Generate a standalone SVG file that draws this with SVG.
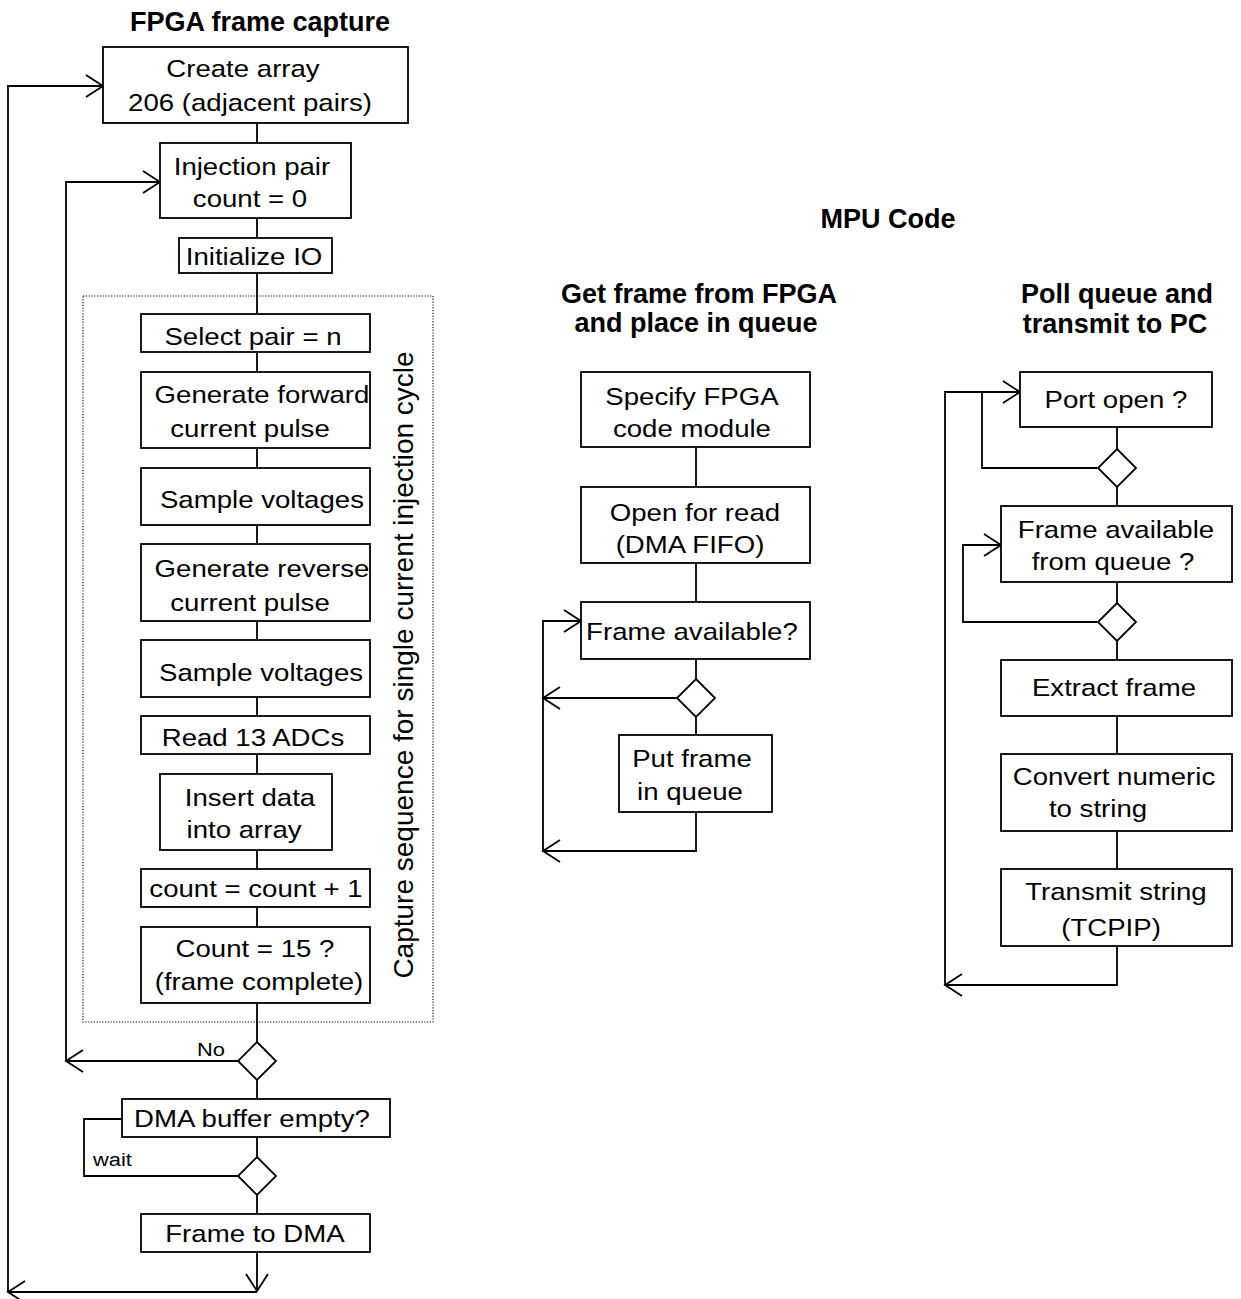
<svg xmlns="http://www.w3.org/2000/svg" width="1241" height="1299" viewBox="0 0 1241 1299">
<style>
.bg{fill:#ffffff}
.box{fill:#ffffff;stroke:#000;stroke-width:1.8}
.dia{fill:#ffffff;stroke:#000;stroke-width:1.8}
.ln{fill:none;stroke:#000;stroke-width:1.8}
.dot{fill:none;stroke:#000;stroke-width:1.1;stroke-dasharray:1.2 1.6}
.t{font-family:"Liberation Sans",Arial,sans-serif;font-size:24px;text-anchor:middle;fill:#000}
.s{font-family:"Liberation Sans",Arial,sans-serif;font-size:19px;text-anchor:middle;fill:#000}
.h{font-family:"Liberation Sans",Arial,sans-serif;font-size:27px;font-weight:bold;text-anchor:middle;fill:#000}
.r{font-family:"Liberation Sans",Arial,sans-serif;font-size:28px;text-anchor:middle;fill:#000}
</style>
<defs>
<marker id="ah" markerUnits="userSpaceOnUse" viewBox="-19 -12 21 24" markerWidth="21" markerHeight="24" refX="0" refY="0" orient="auto" overflow="visible">
<path d="M-17,-11 L0,0 L-17,11" fill="none" stroke="#000" stroke-width="1.8"/>
</marker>
</defs>
<rect class="bg" x="0" y="0" width="1241" height="1299"/>

<g id="titles">
<text class="h" x="260" y="31">FPGA frame capture</text>
<text class="h" x="888" y="228">MPU Code</text>
<text class="h" x="699" y="303">Get frame from FPGA</text>
<text class="h" x="696" y="332">and place in queue</text>
<text class="h" x="1117" y="303">Poll queue and</text>
<text class="h" x="1115" y="333">transmit to PC</text>
</g>

<g id="group-capture">
<rect class="dot" x="83" y="296" width="350" height="726"/>
<text class="r" transform="translate(413,665) rotate(-90)">Capture sequence for single current injection cycle</text>
</g>

<g id="connectors">
<path class="ln" d="M257,123 V143"/>
<path class="ln" d="M257,218 V238"/>
<path class="ln" d="M257,273 V314"/>
<path class="ln" d="M257,352 V372"/>
<path class="ln" d="M257,448 V468"/>
<path class="ln" d="M257,525 V544"/>
<path class="ln" d="M257,621 V640"/>
<path class="ln" d="M257,697 V716"/>
<path class="ln" d="M257,754 V774"/>
<path class="ln" d="M257,850 V869"/>
<path class="ln" d="M257,907 V927"/>
<path class="ln" d="M257,1003 V1042"/>
<path class="ln" d="M257,1080 V1099"/>
<path class="ln" d="M257,1137 V1157"/>
<path class="ln" d="M257,1195 V1214"/>
<path class="ln" d="M257,1252 V1291" marker-end="url(#ah)"/>
<path class="ln" d="M257,1292 H8" marker-end="url(#ah)"/>
<path class="ln" d="M8,1292 V86 H103" marker-end="url(#ah)"/>
<path class="ln" d="M238,1061 H66" marker-end="url(#ah)"/>
<path class="ln" d="M66,1061 V182 H160" marker-end="url(#ah)"/>
<path class="ln" d="M122,1119 H84 V1176 H238"/>

<path class="ln" d="M696,447 V487"/>
<path class="ln" d="M696,563 V602"/>
<path class="ln" d="M696,659 V679"/>
<path class="ln" d="M677,698 H543" marker-end="url(#ah)"/>
<path class="ln" d="M696,717 V735"/>
<path class="ln" d="M696,812 V851 H543" marker-end="url(#ah)"/>
<path class="ln" d="M543,851 V621 H581" marker-end="url(#ah)"/>

<path class="ln" d="M1117,427 V449"/>
<path class="ln" d="M1097,468 H982 V392"/>
<path class="ln" d="M1117,487 V506"/>
<path class="ln" d="M1117,582 V603"/>
<path class="ln" d="M1097,622 H963 V545 H1001" marker-end="url(#ah)"/>
<path class="ln" d="M1117,641 V660"/>
<path class="ln" d="M1117,716 V754"/>
<path class="ln" d="M1117,831 V869"/>
<path class="ln" d="M1117,946 V985 H945" marker-end="url(#ah)"/>
<path class="ln" d="M945,985 V392 H1020" marker-end="url(#ah)"/>
</g>

<g id="n-create"><rect class="box" x="103" y="47" width="305" height="76"/>
<text class="t" transform="scale(1.15,1)" x="211.3" y="77">Create array</text>
<text class="t" transform="scale(1.15,1)" x="217.4" y="111">206 (adjacent pairs)</text></g>

<g id="n-injection"><rect class="box" x="160" y="143" width="191" height="75"/>
<text class="t" transform="scale(1.15,1)" x="219.1" y="175">Injection pair</text>
<text class="t" transform="scale(1.15,1)" x="217.4" y="207">count = 0</text></g>

<g id="n-init"><rect class="box" x="179" y="238" width="153" height="35"/>
<text class="t" transform="scale(1.15,1)" x="220.9" y="265">Initialize IO</text></g>

<g id="n-select"><rect class="box" x="141" y="314" width="229" height="38"/>
<text class="t" transform="scale(1.15,1)" x="220" y="345">Select pair = n</text></g>

<g id="n-fwd"><rect class="box" x="141" y="372" width="229" height="76"/>
<text class="t" transform="scale(1.15,1)" x="227.8" y="403">Generate forward</text>
<text class="t" transform="scale(1.15,1)" x="217.4" y="437">current pulse</text></g>

<g id="n-sample1"><rect class="box" x="141" y="468" width="229" height="57"/>
<text class="t" transform="scale(1.15,1)" x="227.8" y="508">Sample voltages</text></g>

<g id="n-rev"><rect class="box" x="141" y="544" width="229" height="77"/>
<text class="t" transform="scale(1.15,1)" x="227.8" y="577">Generate reverse</text>
<text class="t" transform="scale(1.15,1)" x="217.4" y="611">current pulse</text></g>

<g id="n-sample2"><rect class="box" x="141" y="640" width="229" height="57"/>
<text class="t" transform="scale(1.15,1)" x="227" y="681">Sample voltages</text></g>

<g id="n-read"><rect class="box" x="141" y="716" width="229" height="38"/>
<text class="t" transform="scale(1.15,1)" x="220" y="746">Read 13 ADCs</text></g>

<g id="n-insert"><rect class="box" x="160" y="774" width="172" height="76"/>
<text class="t" transform="scale(1.15,1)" x="217.4" y="806">Insert data</text>
<text class="t" transform="scale(1.15,1)" x="212.2" y="838">into array</text></g>

<g id="n-inc"><rect class="box" x="141" y="869" width="229" height="38"/>
<text class="t" transform="scale(1.15,1)" x="222.6" y="897">count = count + 1</text></g>

<g id="n-count"><rect class="box" x="141" y="927" width="229" height="76"/>
<text class="t" transform="scale(1.15,1)" x="221.7" y="957">Count = 15 ?</text>
<text class="t" transform="scale(1.15,1)" x="225.2" y="990">(frame complete)</text></g>

<g id="d-count"><path class="dia" d="M257,1042 L276,1061 L257,1080 L238,1061 Z"/>
<text class="s" transform="scale(1.15,1)" x="183.5" y="1056">No</text></g>

<g id="n-dma"><rect class="box" x="122" y="1099" width="268" height="38"/>
<text class="t" transform="scale(1.15,1)" x="219.1" y="1127">DMA buffer empty?</text></g>

<g id="d-dma"><path class="dia" d="M257,1157 L276,1176 L257,1195 L238,1176 Z"/>
<text class="s" transform="scale(1.15,1)" x="97.8" y="1166">wait</text></g>

<g id="n-todma"><rect class="box" x="141" y="1214" width="229" height="38"/>
<text class="t" transform="scale(1.15,1)" x="221.7" y="1242">Frame to DMA</text></g>

<g id="n-specify"><rect class="box" x="581" y="372" width="229" height="75"/>
<text class="t" transform="scale(1.15,1)" x="601.7" y="405">Specify FPGA</text>
<text class="t" transform="scale(1.15,1)" x="601.7" y="437">code module</text></g>

<g id="n-open"><rect class="box" x="581" y="487" width="229" height="76"/>
<text class="t" transform="scale(1.15,1)" x="604.3" y="521">Open for read</text>
<text class="t" transform="scale(1.15,1)" x="600" y="553">(DMA FIFO)</text></g>

<g id="n-favail"><rect class="box" x="581" y="602" width="229" height="57"/>
<text class="t" transform="scale(1.15,1)" x="601.7" y="640">Frame available?</text></g>

<g id="d-favail"><path class="dia" d="M696,679 L715,698 L696,717 L677,698 Z"/></g>

<g id="n-put"><rect class="box" x="619" y="735" width="153" height="77"/>
<text class="t" transform="scale(1.15,1)" x="601.7" y="767">Put frame</text>
<text class="t" transform="scale(1.15,1)" x="600" y="800">in queue</text></g>

<g id="n-port"><rect class="box" x="1020" y="372" width="192" height="55"/>
<text class="t" transform="scale(1.15,1)" x="970.4" y="408">Port open ?</text></g>

<g id="d-port"><path class="dia" d="M1117,449 L1136,468 L1117,487 L1098,468 Z"/></g>

<g id="n-fqueue"><rect class="box" x="1001" y="506" width="231" height="76"/>
<text class="t" transform="scale(1.15,1)" x="970.4" y="538">Frame available</text>
<text class="t" transform="scale(1.15,1)" x="967.8" y="570">from queue ?</text></g>

<g id="d-fqueue"><path class="dia" d="M1117,603 L1136,622 L1117,641 L1098,622 Z"/></g>

<g id="n-extract"><rect class="box" x="1001" y="660" width="231" height="56"/>
<text class="t" transform="scale(1.15,1)" x="968.7" y="696">Extract frame</text></g>

<g id="n-convert"><rect class="box" x="1001" y="754" width="231" height="77"/>
<text class="t" transform="scale(1.15,1)" x="968.7" y="785">Convert numeric</text>
<text class="t" transform="scale(1.15,1)" x="954.8" y="817">to string</text></g>

<g id="n-transmit"><rect class="box" x="1001" y="869" width="231" height="77"/>
<text class="t" transform="scale(1.15,1)" x="970.4" y="900">Transmit string</text>
<text class="t" transform="scale(1.15,1)" x="966.1" y="936">(TCPIP)</text></g>
</svg>
